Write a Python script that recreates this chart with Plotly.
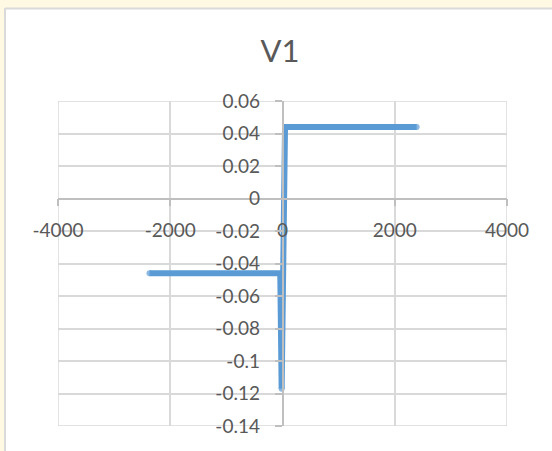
import plotly.graph_objects as go

# Series V1: current/voltage style step response
x_vals = [-2370, -40, -15, 45, 2390]
y_vals = [-0.046, -0.046, -0.117, 0.044, 0.044]
cap_sizes = [6, 0, 6, 0, 6]

# Axis ticks
x_ticks = [-4000, -2000, 0, 2000, 4000]
x_tick_text = ["-4000", "-2000", "0", "2000", "4000"]
y_ticks = [0.06, 0.04, 0.02, 0, -0.02, -0.04, -0.06, -0.08, -0.1, -0.12, -0.14]
y_tick_text = ["0.06", "0.04", "0.02", "0", "-0.02", "-0.04", "-0.06",
               "-0.08", "-0.1", "-0.12", "-0.14"]

W, H = 552, 451
ML, MR, MT, MB = 58, 45, 101, 25
PW, PH = W - ML - MR, H - MT - MB

LINE_BLUE = "#5B9BD5"
GRID = "#D9D9D9"
AXIS = "#BFBFBF"
TEXT = "#595959"
CREAM = "#FFF9E3"
FONT = "Lato"

x_range = [-4000, 4000]
y_range = [-0.14, 0.06]

fig = go.Figure()
fig.add_trace(go.Scatter(
    x=x_vals, y=y_vals,
    mode="lines+markers",
    line=dict(color=LINE_BLUE, width=6),
    marker=dict(color=LINE_BLUE, size=cap_sizes, line=dict(width=0)),
    hoverinfo="skip",
    showlegend=False,
))


def px_to_paper_x(px):
    return (px - ML) / PW


def px_to_paper_y(py):
    return 1 - (py - MT) / PH


# Cream window edges around the white chart sheet
fig.add_shape(
    type="rect", xref="paper", yref="paper", layer="below",
    x0=px_to_paper_x(-5), x1=px_to_paper_x(W + 5),
    y0=px_to_paper_y(8), y1=px_to_paper_y(-5),
    fillcolor=CREAM, line=dict(width=0),
)
fig.add_shape(
    type="rect", xref="paper", yref="paper", layer="below",
    x0=px_to_paper_x(-5), x1=px_to_paper_x(5),
    y0=px_to_paper_y(H + 5), y1=px_to_paper_y(8),
    fillcolor=CREAM, line=dict(width=0),
)
# Sheet border (top and left edges)
fig.add_shape(
    type="line", xref="paper", yref="paper", layer="below",
    x0=px_to_paper_x(5), x1=px_to_paper_x(W + 5),
    y0=px_to_paper_y(8.5), y1=px_to_paper_y(8.5),
    line=dict(color="#DADADA", width=2),
)
fig.add_shape(
    type="line", xref="paper", yref="paper", layer="below",
    x0=px_to_paper_x(5), x1=px_to_paper_x(5),
    y0=px_to_paper_y(H + 5), y1=px_to_paper_y(8),
    line=dict(color="#DADADA", width=2),
)
# Outer gridline frame of the plot area
fig.add_shape(
    type="rect", xref="x", yref="y", layer="below",
    x0=x_range[0], x1=x_range[1], y0=y_range[0], y1=y_range[1],
    line=dict(color=GRID, width=1.5),
)

fig.update_layout(
    width=W, height=H,
    margin=dict(l=ML, r=MR, t=MT, b=MB, autoexpand=False),
    paper_bgcolor="white",
    plot_bgcolor="white",
    font=dict(family=FONT, color=TEXT),
    title=dict(
        text="V1", font=dict(family=FONT, size=31, color=TEXT),
        x=280 / W, xref="container", xanchor="center",
        y=1 - 51 / H, yref="container", yanchor="middle",
    ),
    xaxis=dict(
        range=x_range, tickvals=x_ticks, ticktext=x_tick_text,
        showgrid=True, gridcolor=GRID, gridwidth=1.5,
        zeroline=False,
        anchor="free", position=(0 - y_range[0]) / (y_range[1] - y_range[0]),
        showline=True, linecolor=AXIS, linewidth=1.5,
        ticks="outside", ticklen=7, tickcolor=AXIS, tickwidth=1.5,
        tickfont=dict(family=FONT, size=19, color=TEXT),
        ticklabelstandoff=8,
        fixedrange=True,
    ),
    yaxis=dict(
        range=y_range, tickvals=y_ticks, ticktext=y_tick_text,
        showgrid=True, gridcolor=GRID, gridwidth=1.5,
        zeroline=False,
        anchor="free", position=(0 - x_range[0]) / (x_range[1] - x_range[0]),
        showline=True, linecolor=AXIS, linewidth=1.5,
        ticks="outside", ticklen=7, tickcolor=AXIS, tickwidth=1.5,
        tickfont=dict(family=FONT, size=19, color=TEXT),
        ticklabelstandoff=11,
        fixedrange=True,
    ),
)

fig.write_html("out.html")
